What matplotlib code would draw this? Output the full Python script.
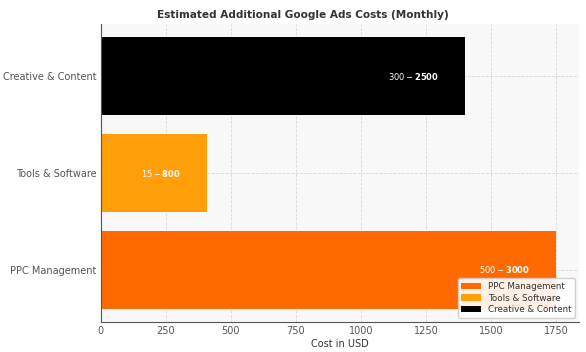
import matplotlib.pyplot as plt

# Monthly cost ranges (USD) and the bar value (midpoint of range)
categories = ["PPC Management", "Tools & Software", "Creative & Content"]
low_costs = [500, 15, 300]
high_costs = [3000, 800, 2500]
colors = ["#ff6a00", "#ff9f0a", "#000000"]

mid_costs = [(lo + hi) / 2 for lo, hi in zip(low_costs, high_costs)]

fig = plt.figure(figsize=(5.86, 3.52), dpi=100)
ax = fig.add_axes([0.172, 0.085, 0.816, 0.847])
ax.set_facecolor("#f8f8f8")

bars = ax.barh(categories, mid_costs, color=colors, label=categories, height=0.8, zorder=2)

# range labels inside the bars
for bar, lo, hi in zip(bars, low_costs, high_costs):
    ax.text(bar.get_width() - 100, bar.get_y() + bar.get_height() / 2,
            f"${lo} - ${hi}", ha="right", va="center",
            color="white", fontsize=6, fontweight="bold", zorder=3)

ax.set_title("Estimated Additional Google Ads Costs (Monthly)",
             fontsize=7.6, fontweight="bold", color="#333333", pad=4, x=0.423)
ax.set_xlabel("Cost in USD", fontsize=7, color="#333333", labelpad=2)
ax.grid(True, linestyle="--", color="#d8d8d8", linewidth=0.6, zorder=0)

for side in ["top", "right"]:
    ax.spines[side].set_visible(False)
for side in ["left", "bottom"]:
    ax.spines[side].set_color("#555555")
    ax.spines[side].set_linewidth(0.8)

ax.tick_params(labelsize=7, colors="#555555", length=0)
ax.tick_params(axis="y", pad=3)
ax.tick_params(axis="x", pad=3)

ax.legend(loc="lower right", fontsize=6.3, frameon=True, facecolor="white",
          edgecolor="#cccccc", framealpha=0.9, handlelength=2.2,
          borderpad=0.4, labelspacing=0.3, labelcolor="#333333")

plt.savefig("out.png", dpi=100)
